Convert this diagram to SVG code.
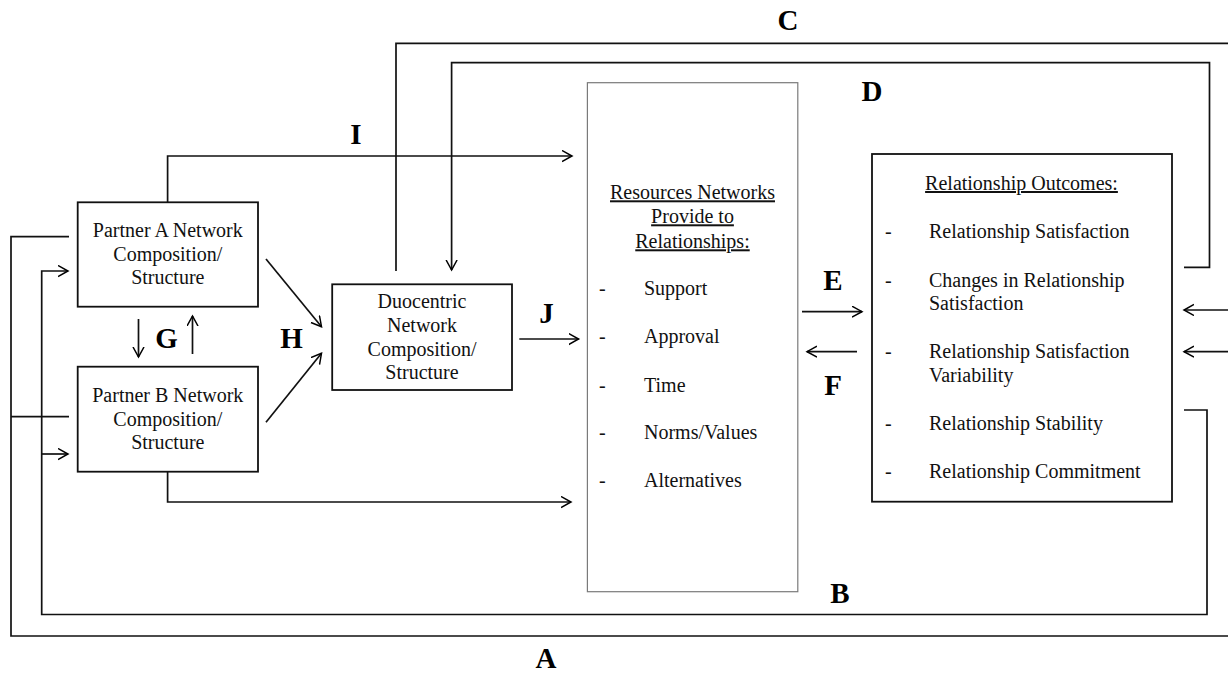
<svg xmlns="http://www.w3.org/2000/svg" width="1228" height="674" viewBox="0 0 1228 674">
<defs>
<marker id="arr" markerUnits="userSpaceOnUse" markerWidth="14" markerHeight="14" refX="10" refY="6" orient="auto">
<path d="M0,0.5 L10,6 L0,11.5" fill="none" stroke="#000" stroke-width="1.5"/>
</marker>
<style>
.box{fill:#fff;stroke:#111;stroke-width:1.8}
.rbox{fill:#fff;stroke:#7a7a7a;stroke-width:1.2}
.t{font-family:"Liberation Serif","Times New Roman",serif;font-size:20px;fill:#111}
.c{text-anchor:middle}
.u{text-decoration:underline}
.lbl{font-family:"Liberation Serif","Times New Roman",serif;font-size:29px;font-weight:bold;fill:#000;text-anchor:middle}
.ln{fill:none;stroke:#111;stroke-width:1.7}
.la{fill:none;stroke:#111;stroke-width:1.7;marker-end:url(#arr)}
</style>
</defs>
<rect width="1228" height="674" fill="#fff"/>

<g id="connectors">
<!-- C -->
<path class="ln" d="M396,271 V43.3 H1228" stroke-width="2"/>
<!-- D -->
<path class="la" d="M1184,267.3 H1209.5 V62.7 H451.6 V270" stroke-width="2"/>
<!-- I -->
<path class="la" d="M167.6,202.3 V156 H572"/>
<!-- Partner B to Resources -->
<path class="la" d="M167.6,471.7 V502 H571"/>
<!-- A -->
<path class="ln" d="M1228,636 H11 V236.7 H69"/>
<path class="ln" d="M11,416.7 H69"/>
<!-- B -->
<path class="la" d="M1184,410 H1207 V614.5 H41.7 V271 H68"/>
<path class="la" d="M41.7,454 H68"/>
<!-- G -->
<path class="la" d="M138.5,319 V357"/>
<path class="la" d="M192.5,354 V316"/>
<!-- H -->
<path class="la" d="M266,259 L321.5,326.7"/>
<path class="la" d="M266,422.3 L321.5,353.3"/>
<!-- J -->
<path class="la" d="M519.3,339 H578.6"/>
<!-- E / F -->
<path class="la" d="M802,311.7 H862"/>
<path class="la" d="M857,351.7 H807"/>
<!-- incoming from right -->
<path class="la" d="M1228,310 H1184"/>
<path class="la" d="M1228,351.7 H1184"/>
</g>

<g id="labels">
<text class="lbl" x="788" y="30">C</text>
<text class="lbl" x="872" y="101">D</text>
<text class="lbl" x="356" y="144">I</text>
<text class="lbl" x="546.5" y="323.3">J</text>
<text class="lbl" x="166.5" y="348.3">G</text>
<text class="lbl" x="291.6" y="348.3">H</text>
<text class="lbl" x="833" y="290">E</text>
<text class="lbl" x="833" y="395">F</text>
<text class="lbl" x="840" y="602.7">B</text>
<text class="lbl" x="546" y="668">A</text>
</g>

<g id="partnerA">
<rect class="box" x="77.7" y="202.3" width="180.3" height="104.4"/>
<text class="t c" x="167.8" y="236.7">Partner A Network</text>
<text class="t c" x="167.8" y="260.7">Composition/</text>
<text class="t c" x="167.8" y="284.3">Structure</text>
</g>

<g id="partnerB">
<rect class="box" x="77.7" y="366.7" width="180.3" height="105"/>
<text class="t c" x="167.8" y="401.7">Partner B Network</text>
<text class="t c" x="167.8" y="425.7">Composition/</text>
<text class="t c" x="167.8" y="449.3">Structure</text>
</g>

<g id="duocentric">
<rect class="box" x="332.2" y="284.3" width="179.8" height="105.7"/>
<text class="t c" x="422" y="308.3">Duocentric</text>
<text class="t c" x="422" y="331.7">Network</text>
<text class="t c" x="422" y="355.7">Composition/</text>
<text class="t c" x="422" y="379.3">Structure</text>
</g>

<g id="resources">
<rect class="rbox" x="587.4" y="82.7" width="210.4" height="509"/>
<text class="t c u" x="692.5" y="199.3">Resources Networks</text>
<text class="t c u" x="692.5" y="223.3">Provide to</text>
<text class="t c u" x="692.5" y="248.3">Relationships:</text>
<text class="t" x="599" y="295">-</text><text class="t" x="644" y="295">Support</text>
<text class="t" x="599" y="343.3">-</text><text class="t" x="644" y="343.3">Approval</text>
<text class="t" x="599" y="391.7">-</text><text class="t" x="644" y="391.7">Time</text>
<text class="t" x="599" y="439">-</text><text class="t" x="644" y="439">Norms/Values</text>
<text class="t" x="599" y="486.7">-</text><text class="t" x="644" y="486.7">Alternatives</text>
</g>

<g id="outcomes">
<rect class="box" x="872" y="154" width="300" height="347.7"/>
<text class="t c u" x="1021.5" y="190">Relationship Outcomes:</text>
<text class="t" x="885" y="238.3">-</text><text class="t" x="929" y="238.3">Relationship Satisfaction</text>
<text class="t" x="885" y="286.7">-</text><text class="t" x="929" y="286.7">Changes in Relationship</text>
<text class="t" x="929" y="310">Satisfaction</text>
<text class="t" x="885" y="358.3">-</text><text class="t" x="929" y="358.3">Relationship Satisfaction</text>
<text class="t" x="929" y="381.7">Variability</text>
<text class="t" x="885" y="430">-</text><text class="t" x="929" y="430">Relationship Stability</text>
<text class="t" x="885" y="478.3">-</text><text class="t" x="929" y="478.3">Relationship Commitment</text>
</g>
</svg>
